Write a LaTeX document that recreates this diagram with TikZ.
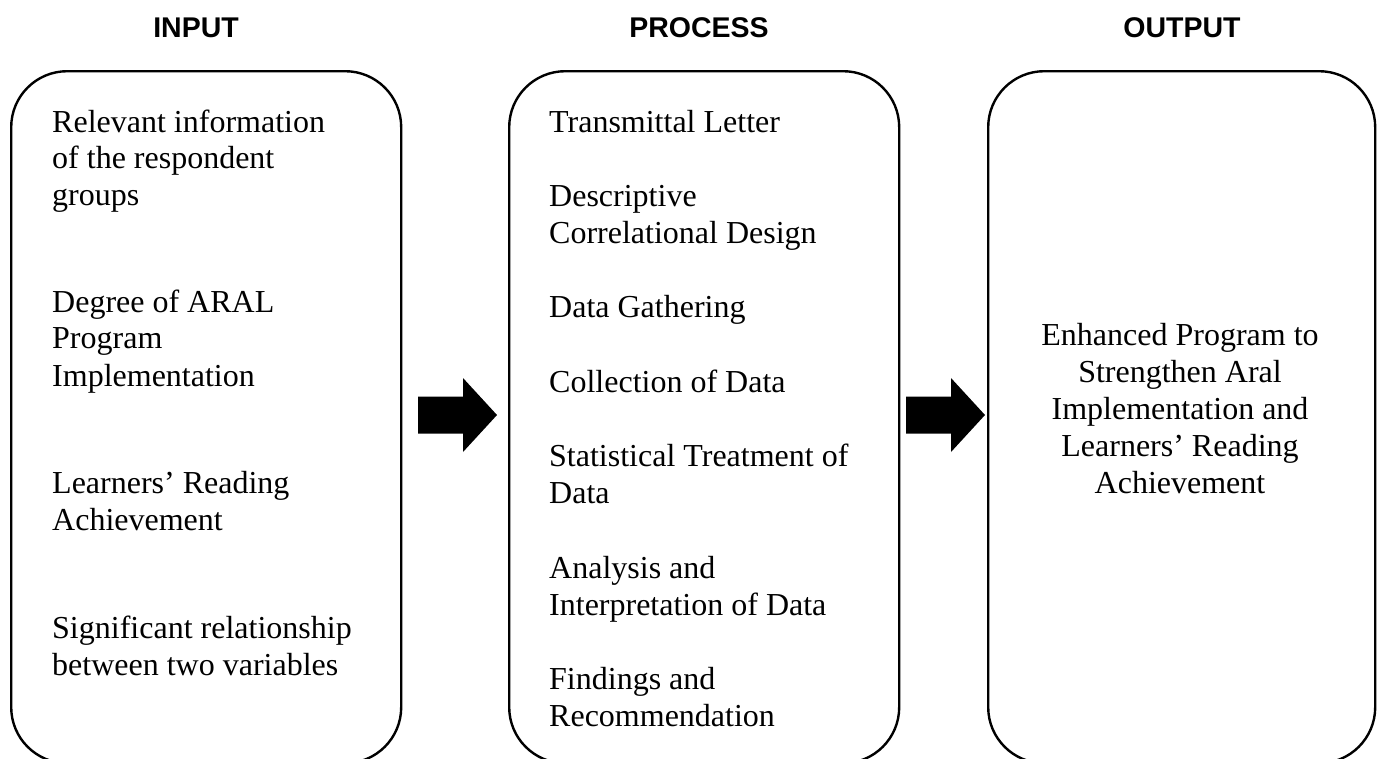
\documentclass[tikz,border=0pt]{standalone}
\usepackage{fontspec}
\setmainfont{Liberation Serif}
\newfontfamily\headfont{Liberation Sans}
\begin{document}
\begin{tikzpicture}[x=1pt,y=-1pt,
  frame/.style={draw=black, line width=2.4pt, rounded corners=56pt,
    minimum height=692pt, anchor=north west, inner sep=0pt},
  heading/.style={anchor=base, inner sep=0pt,
    font=\headfont\bfseries\fontsize{28.5}{34}\selectfont},
  item/.style={anchor=base west, inner sep=0pt,
    font=\fontsize{32}{37}\selectfont},
  result/.style={anchor=base, inner sep=0pt,
    font=\fontsize{32}{37}\selectfont},
  blockarrow/.pic={\fill[black] (0,-18.5) -- (45,-18.5) -- (45,-37) -- (79,0)
    -- (45,37) -- (45,18.5) -- (0,18.5) -- cycle;}
]
\useasboundingbox (0,0) rectangle (1381,758);
\clip (0,0) rectangle (1381,758);

% column headings
\node[heading] (hin)  at (196,37)  {INPUT};
\node[heading] (hpro) at (699,37)  {PROCESS};
\node[heading] (hout) at (1182,37) {OUTPUT};

% the three frames (their lower edges run past the page)
\node[frame, minimum width=390pt] (inbox)   at (10,70)  {};
\node[frame, minimum width=390pt] (procbox) at (508,70) {};
\node[frame, minimum width=387pt] (outbox)  at (987,70) {};

% block arrows between the frames
\pic at (418,415) {blockarrow};
\pic at (906,415) {blockarrow};

% input items
\foreach \t/\y [count=\i] in {
  Relevant information/132, of the respondent/168, groups/205,
  Degree of ARAL/312, Program/348, Implementation/386,
  Learners’ Reading/493, Achievement/530,
  Significant relationship/638, between two variables/675}
  \node[item] (in\i) at (52,\y) {\t};

% process items
\foreach \t/\y [count=\i] in {
  Transmittal Letter/132,
  Descriptive/206, Correlational Design/243,
  Data Gathering/317,
  Collection of Data/392,
  Statistical Treatment of/466, Data/503,
  Analysis and/578, Interpretation of Data/615,
  Findings and/689, Recommendation/726}
  \node[item] (pro\i) at (549,\y) {\t};

% output statement
\foreach \t/\y [count=\i] in {
  Enhanced Program to/345, Strengthen Aral/382, Implementation and/419,
  Learners’ Reading/456, Achievement/493}
  \node[result] (out\i) at (1180,\y) {\t};
\end{tikzpicture}
\end{document}
